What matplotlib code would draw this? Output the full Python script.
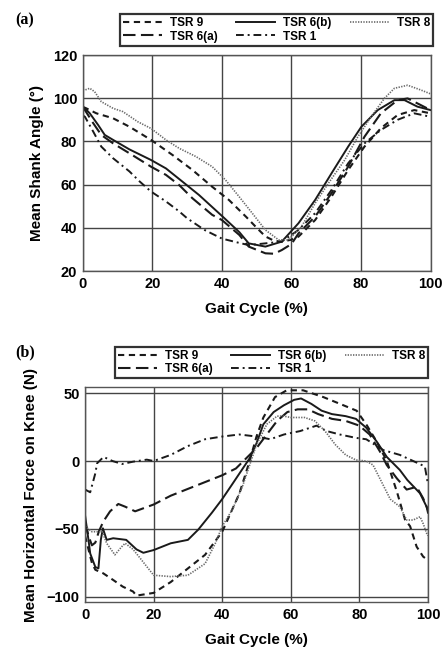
import matplotlib
matplotlib.use("Agg")
import matplotlib.pyplot as plt

plt.rcParams["font.family"] = ["Liberation Sans", "DejaVu Sans"]
plt.rcParams["font.weight"] = "bold"

# ---------------- panel (a): mean shank angle ----------------
a_tsr9_x = [0, 1, 3.9, 8.7, 13.4, 19.6, 25.8, 31.5, 37.2, 42, 47, 50, 52.5, 55, 57.2, 60, 62,
            66.8, 71.5, 76.3, 81, 85.7, 90.5, 95.3, 100]
a_tsr9_y = [96, 95.3, 93, 90.7, 86.8, 80.7, 73.7, 66.8, 59, 52.9, 45, 40, 36, 34, 33.6, 34.5,
            35.9, 43.6, 54.4, 66.8, 77.6, 86.1, 92.2, 94.5, 93]

a_tsr6a_x = [0, 0.6, 3, 5.3, 8.7, 13.4, 19.6, 23.9, 27.7, 31.5, 37.2, 40, 45, 47.7, 52.5, 55,
             57.2, 60, 62, 66.8, 71.5, 76.3, 81, 85.7, 90.5, 93.4, 97.2, 100]
a_tsr6a_y = [96, 94.5, 88.4, 83, 79.1, 74.5, 68.3, 64.5, 59.8, 53.7, 46, 43.6, 36.7, 31.3, 28.2,
             28, 29.7, 32.5, 37.4, 45.2, 56, 68.3, 82.2, 93, 99.1, 99.9, 96.8, 94.5]

a_tsr6b_x = [0, 0.6, 2, 4.4, 6.3, 8.7, 13.4, 19.6, 23.9, 28.7, 33.4, 40, 45, 47.7, 52.5, 57.2,
             62, 66.8, 71.5, 76.3, 80.1, 84.8, 89.6, 92.5, 96.2, 100]
a_tsr6b_y = [95.5, 95.3, 93, 87.6, 83, 80.7, 76.3, 71.4, 67.5, 61.3, 55.2, 45.5, 38, 32.8, 31.3,
             33.6, 42.1, 52.9, 65.2, 77.6, 86.8, 94.5, 99.1, 99.1, 96.1, 94.5]

a_tsr1_x = [0, 0.6, 3, 5.3, 8.7, 13.4, 16.3, 19.6, 23.9, 27.7, 30, 35, 40, 45, 47.7, 52.5, 57.2,
            62, 66.8, 71.5, 76.3, 81, 85.7, 90.5, 95.3, 100]
a_tsr1_y = [92, 91.4, 84.5, 77.6, 72.2, 66.1, 61.5, 56.8, 52.2, 47.6, 44.4, 39, 35, 33, 32,
            32.8, 33.6, 39, 46.8, 57.5, 69.9, 79.1, 85.3, 90, 93, 91.4]

a_tsr8_x = [0, 0.6, 2, 3.4, 5.3, 8.7, 11.5, 15.8, 19.6, 23.9, 27.7, 32.5, 37.2, 41, 44.9, 48.7,
            52.5, 56.3, 59.1, 62.9, 66.8, 70.6, 75.3, 79.1, 82.9, 86.7, 89.6, 93.4, 97.2, 100]
a_tsr8_y = [104, 103.8, 104.6, 103, 98.4, 95.3, 93.8, 89.1, 86, 80.7, 76.8, 73, 68.3, 62.2,
            54.5, 46.8, 39, 34.4, 34.4, 40.6, 51.4, 60.6, 71.4, 82.2, 91.4, 99.9, 104.6, 106,
            103.8, 102]

# ---------------- panel (b): horizontal force on knee ----------------
b_tsr9_x = [0, 1, 2, 3, 5.3, 8.2, 11, 14, 15, 20, 25, 30, 35, 40, 45, 48, 50, 52, 55.4, 58.8,
            63.6, 69.5, 73.4, 79.2, 82, 85, 88, 91, 93.3, 94.8, 96.7, 98.6, 100]
b_tsr9_y = [-55, -65, -75, -80, -82.6, -87.5, -92.4, -96, -99, -97, -89, -79, -69, -52, -24, 0,
            18, 32, 47, 52, 52, 47, 43, 37, 27, 14.5, 0, -23, -43, -48, -63, -70.3, -73]

b_tsr6a_x = [0, 1, 2, 3, 4, 5.3, 7.3, 9.7, 11.7, 14.6, 20, 25, 30, 35, 40, 44, 47, 50, 53, 56,
             59, 62, 65, 68, 72, 76, 80, 83, 86, 88, 91, 93.8, 96.7, 98.6, 100]
b_tsr6a_y = [-45, -55, -62, -60, -52, -44.6, -37, -31.6, -33.6, -37, -32, -25.5, -20.5, -15.5,
             -10.5, -5.5, 2, 9.5, 19.5, 29.5, 36, 38, 38, 34.5, 31, 29.5, 26, 19.5, 7, -3, -13,
             -21, -19, -27.4, -36]

b_tsr6b_x = [0, 1, 1.5, 3, 3.9, 4.6, 5.2, 6.3, 8.2, 12, 15, 17, 20, 25, 30, 33, 37, 40, 43, 46,
             48, 50, 52, 55, 58, 61, 63, 66, 69, 72, 76, 79, 82, 85, 88, 91.8, 94, 97.7, 99.6,
             100]
b_tsr6b_y = [-40, -58, -68, -78, -79, -58, -49.5, -58, -56.8, -58, -65, -67.5, -65.5, -60.5,
             -58, -50.5, -38, -28, -16.8, -5.5, 2, 13, 27, 36, 41, 45, 46, 42, 37, 34.5, 33, 31,
             24.5, 14.5, 3, -6.6, -14, -23.8, -33.6, -38]

b_tsr1_x = [0, 1.5, 3, 3.5, 5.4, 8, 10.8, 14, 18, 20, 25, 30, 35, 40, 45, 50, 54, 58, 62.7,
            67.5, 70.5, 74.3, 79, 82, 87, 91.8, 95.7, 99.1, 100]
b_tsr1_y = [-21, -23, -9, -1.7, 3, 0, -2.2, -0.5, 1, 0, 4.5, 11, 16, 18, 19.5, 18, 16, 19.5,
            22, 26, 22, 19.5, 17, 16, 8, 4.5, 0, -4, -17]

b_tsr8_x = [0, 2, 4, 5, 6.3, 8.7, 10.7, 11.7, 14, 15.6, 20, 25, 30, 35, 38, 40, 43, 46, 48, 50,
            53, 56, 58, 60, 64, 67, 70, 73, 76, 79, 82, 84, 86, 89, 91.8, 93.8, 95.7, 97.7,
            98.6, 99.6, 100]
b_tsr8_y = [-48, -52, -52, -52, -60.5, -69, -63, -60.5, -65, -70, -84, -85, -84, -75.5, -60.5,
            -48, -35.5, -18, -3, 12, 27, 33, 33, 32, 32, 29.5, 22, 12, 4.5, 0.75, 0, -3, -13,
            -28, -33.6, -43.4, -43.4, -41, -46, -53, -55]

labels = ["TSR 9", "TSR 6(a)", "TSR 6(b)", "TSR 1", "TSR 8"]

INK = "#1a1a1a"
styles = {
    "TSR 9": dict(color=INK, lw=1.5, ls=(0, (3.0, 2.2))),
    "TSR 6(a)": dict(color=INK, lw=1.5, ls=(0, (6.0, 2.6))),
    "TSR 6(b)": dict(color=INK, lw=1.4, ls="-"),
    "TSR 1": dict(color=INK, lw=1.4, ls=(0, (4.0, 2.0, 1.0, 2.0))),
    "TSR 8": dict(color="#6a6a6a", lw=1.2, ls=(0, (0.8, 0.8))),
}

panel_a = {
    "TSR 9": (a_tsr9_x, a_tsr9_y), "TSR 6(a)": (a_tsr6a_x, a_tsr6a_y),
    "TSR 6(b)": (a_tsr6b_x, a_tsr6b_y), "TSR 1": (a_tsr1_x, a_tsr1_y),
    "TSR 8": (a_tsr8_x, a_tsr8_y),
}
panel_b = {
    "TSR 9": (b_tsr9_x, b_tsr9_y), "TSR 6(a)": (b_tsr6a_x, b_tsr6a_y),
    "TSR 6(b)": (b_tsr6b_x, b_tsr6b_y), "TSR 1": (b_tsr1_x, b_tsr1_y),
    "TSR 8": (b_tsr8_x, b_tsr8_y),
}

fig = plt.figure(figsize=(4.43, 6.54), dpi=100)
ax_a = fig.add_axes([0.187, 0.5856, 0.785, 0.3303])
ax_b = fig.add_axes([0.192, 0.0795, 0.774, 0.3287])


def style_axes(ax, ylim, yticks, ylabel):
    ax.set_xlim(0, 100)
    ax.set_ylim(*ylim)
    ax.set_xticks([0, 20, 40, 60, 80, 100])
    ax.set_yticks(yticks)
    ax.grid(True, color="#444444", lw=1.0)
    ax.set_axisbelow(True)
    ax.tick_params(length=0, labelsize=10.5, pad=4)
    for lab in ax.get_xticklabels() + ax.get_yticklabels():
        lab.set_fontweight("bold")
    for sp in ax.spines.values():
        sp.set_color("#555555")
        sp.set_linewidth(1.0)
    ax.set_xlabel("Gait Cycle (%)", fontsize=11, fontweight="bold", labelpad=8)
    ax.set_ylabel(ylabel, fontsize=11, fontweight="bold", labelpad=6)


def draw(ax, data, legend_box):
    for name in labels:
        xs, ys = data[name]
        ax.plot(xs, ys, label=name, **styles[name])
    leg = fig.legend(*ax.get_legend_handles_labels(), ncol=3, loc="center",
                     bbox_to_anchor=legend_box, mode="expand", fontsize=8.5,
                     frameon=True, fancybox=False, handlelength=3.3,
                     handletextpad=0.7, columnspacing=0.8, labelspacing=0.1,
                     borderpad=0.25, borderaxespad=0)
    leg.get_frame().set_edgecolor("black")
    leg.get_frame().set_linewidth(1.6)
    for t in leg.get_texts():
        t.set_fontweight("bold")


style_axes(ax_a, (20, 120), [20, 40, 60, 80, 100, 120], "Mean Shank Angle (°)")
draw(ax_a, panel_a, (120 / 443, 1 - 48 / 654, 313 / 443, 36 / 654))

style_axes(ax_b, (-103.7, 54.4), [-100, -50, 0, 50], "Mean Horizontal Force on Knee (N)")
draw(ax_b, panel_b, (115 / 443, 1 - 380 / 654, 313 / 443, 35 / 654))

fig.text(15 / 443, 1 - 20 / 654, "(a)", fontsize=11.5, fontweight="bold",
         family="Liberation Serif", va="center")
fig.text(15 / 443, 1 - 352 / 654, "(b)", fontsize=11.5, fontweight="bold",
         family="Liberation Serif", va="center")

fig.savefig("out.png", dpi=100)
